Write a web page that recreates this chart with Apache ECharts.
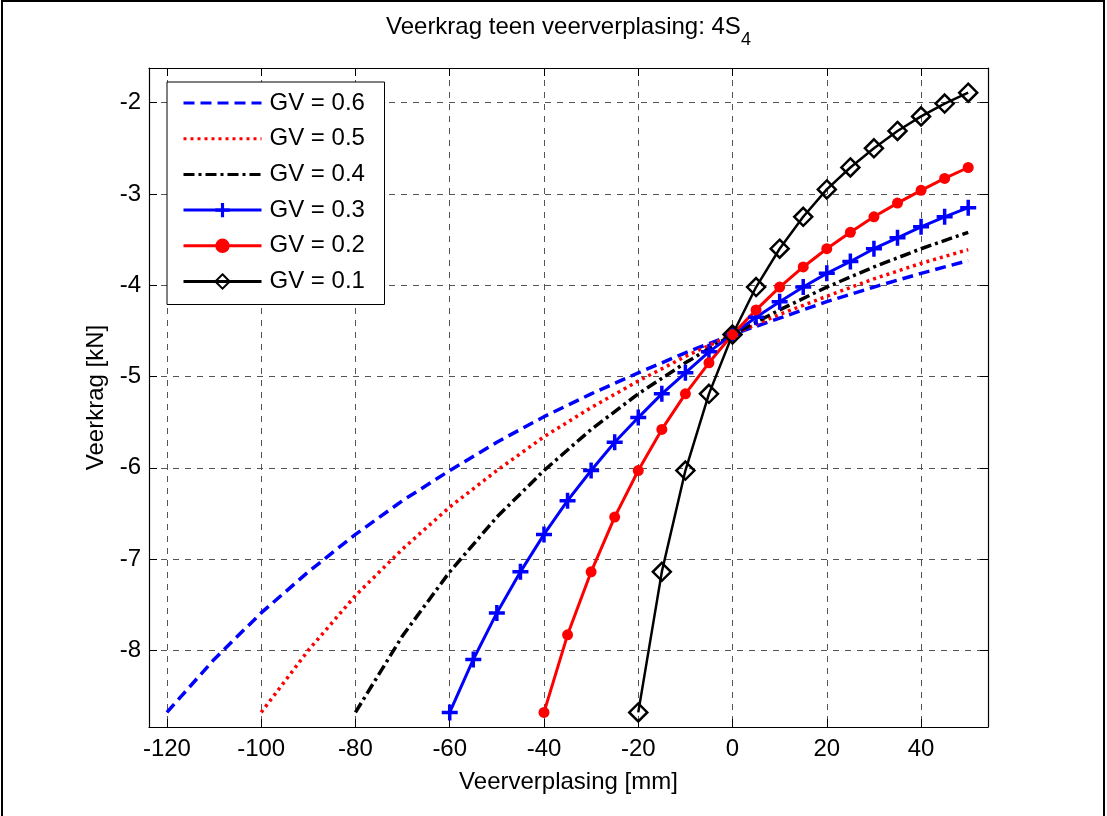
<!DOCTYPE html>
<html>
<head>
<meta charset="utf-8">
<script src="https://cdn.jsdelivr.net/npm/echarts@6/dist/echarts.min.js"></script>
<style>html,body{margin:0;padding:0;background:#fff;}#c{width:1107px;height:816px;}</style>
</head>
<body>
<div id="c"></div>
<script>
const xTicks = [-120, -100, -80, -60, -40, -20, 0, 20, 40];
const yTicks = [-8, -7, -6, -5, -4, -3, -2];
const seriesNames = ['GV = 0.6', 'GV = 0.5', 'GV = 0.4', 'GV = 0.3', 'GV = 0.2', 'GV = 0.1'];

const x06 = [-120, -110, -100, -90, -80, -70, -60, -50, -40, -30, -20, -10, 0, 10, 20, 30, 40, 50];
const y06 = [-8.68, -8.10, -7.59, -7.14, -6.73, -6.36, -6.03, -5.72, -5.44, -5.19, -4.96, -4.74, -4.54, -4.36, -4.18, -4.02, -3.87, -3.73];

const x05 = [-100, -90, -80, -70, -60, -50, -40, -30, -20, -10, 0, 10, 20, 30, 40, 50];
const y05 = [-8.68, -8.00, -7.40, -6.89, -6.43, -6.03, -5.66, -5.34, -5.05, -4.78, -4.54, -4.32, -4.12, -3.93, -3.76, -3.61];

const x04 = [-80, -70, -60, -50, -40, -30, -20, -10, 0, 10, 20, 30, 40, 50];
const y04 = [-8.68, -7.84, -7.14, -6.54, -6.03, -5.58, -5.19, -4.85, -4.54, -4.27, -4.02, -3.80, -3.60, -3.42];

const x03 = [-60, -55, -50, -45, -40, -35, -30, -25, -20, -15, -10, -5, 0, 5, 10, 15, 20, 25, 30, 35, 40, 45, 50];
const y03 = [-8.68, -8.10, -7.59, -7.14, -6.73, -6.36, -6.03, -5.72, -5.45, -5.19, -4.96, -4.73, -4.54, -4.35, -4.18, -4.02, -3.87, -3.74, -3.60, -3.48, -3.36, -3.25, -3.15];

const x02 = [-40, -35, -30, -25, -20, -15, -10, -5, 0, 5, 10, 15, 20, 25, 30, 35, 40, 45, 50];
const y02 = [-8.68, -7.83, -7.14, -6.54, -6.03, -5.58, -5.19, -4.85, -4.54, -4.27, -4.02, -3.80, -3.60, -3.42, -3.25, -3.10, -2.96, -2.83, -2.71];

const x01 = [-20, -15, -10, -5, 0, 5, 10, 15, 20, 25, 30, 35, 40, 45, 50];
const y01 = [-8.68, -7.14, -6.03, -5.19, -4.54, -4.02, -3.60, -3.25, -2.95, -2.71, -2.50, -2.31, -2.15, -2.01, -1.89];

const FONT = "'Liberation Sans', Arial, Helvetica, sans-serif";
const FS = 24;
const zip = (xs, ys) => xs.map((x, i) => [x, ys[i]]);
const PLUS = 'path://M0,6.25H6.25V0H9.75V6.25H16V9.75H9.75V16H6.25V9.75H0Z';

const chart = echarts.init(document.getElementById('c'), null, {renderer: 'canvas'});

const tickStyle = {show: true, inside: true, length: 8, lineStyle: {color: '#000', width: 1}};
const axisLineStyle = {show: true, onZero: false, lineStyle: {color: '#000', width: 1.2}};
const labelStyle = {fontSize: FS, fontFamily: FONT, color: '#000', fontWeight: 'normal'};

const option = {
  animation: false,
  backgroundColor: '#fff',
  title: {
    text: '{a|Veerkrag teen veerverplasing: 4S}{s|4}',
    left: 386, top: 15, padding: 0,
    textStyle: {
      fontWeight: 'normal',
      rich: {
        a: {fontSize: FS, fontFamily: FONT, color: '#000', fontWeight: 'normal', lineHeight: 34, verticalAlign: 'top'},
        s: {fontSize: 18, fontFamily: FONT, color: '#000', fontWeight: 'normal', lineHeight: 18, verticalAlign: 'bottom'}
      }
    }
  },
  graphic: [{
    type: 'rect', silent: true, z: -1,
    shape: {x: 2, y: 1, width: 1102, height: 900},
    style: {fill: 'none', stroke: '#000', lineWidth: 2}
  }],
  legend: {
    orient: 'vertical', left: 167, top: 82,
    itemWidth: 78, itemHeight: 18, itemGap: 11.7,
    padding: [9, 12, 11, 15],
    borderColor: '#000', borderWidth: 1, backgroundColor: '#fff',
    selectedMode: false,
    lineStyle: {width: 3},
    textStyle: Object.assign({lineHeight: 24, width: 103, padding: [0, 0, 0, 3]}, labelStyle),
    data: seriesNames
  },
  grid: {left: 149, right: 119, top: 68, bottom: 89, containLabel: false},
  xAxis: [{
    type: 'value', position: 'bottom', min: -123.8, max: 54.2,
    name: 'Veerverplasing [mm]', nameLocation: 'middle', nameGap: 43,
    nameTextStyle: labelStyle,
    axisLine: axisLineStyle,
    axisTick: Object.assign({customValues: xTicks}, tickStyle),
    axisLabel: Object.assign({customValues: xTicks, margin: 10}, labelStyle),
    splitLine: {show: true, lineStyle: {color: '#555', width: 1, type: [6, 6]}}
  }, {
    type: 'value', position: 'top', min: -123.8, max: 54.2,
    axisLine: axisLineStyle,
    axisTick: Object.assign({customValues: xTicks}, tickStyle),
    axisLabel: {show: false},
    splitLine: {show: false}
  }],
  yAxis: [{
    type: 'value', position: 'left', min: -8.84, max: -1.62,
    name: 'Veerkrag [kN]', nameLocation: 'middle', nameGap: 40,
    nameTextStyle: labelStyle,
    axisLine: axisLineStyle,
    axisTick: Object.assign({customValues: yTicks}, tickStyle),
    axisLabel: Object.assign({customValues: yTicks, margin: 8}, labelStyle),
    splitLine: {show: true, lineStyle: {color: '#555', width: 1, type: [6, 6]}}
  }, {
    type: 'value', position: 'right', min: -8.84, max: -1.62,
    axisLine: axisLineStyle,
    axisTick: Object.assign({customValues: yTicks}, tickStyle),
    axisLabel: {show: false},
    splitLine: {show: false}
  }],
  series: [
    {name: seriesNames[0], type: 'line', data: zip(x06, y06), symbol: 'none',
     lineStyle: {color: '#0000ff', width: 3.5, type: [11, 6]}, itemStyle: {color: '#0000ff', opacity: 0}},
    {name: seriesNames[1], type: 'line', data: zip(x05, y05), symbol: 'none',
     lineStyle: {color: '#ff0000', width: 3.5, type: [3, 4]}, itemStyle: {color: '#ff0000', opacity: 0}},
    {name: seriesNames[2], type: 'line', data: zip(x04, y04), symbol: 'none',
     lineStyle: {color: '#000000', width: 3.5, type: [11, 4, 3, 4]}, itemStyle: {color: '#000000', opacity: 0}},
    {name: seriesNames[3], type: 'line', data: zip(x03, y03), symbol: PLUS, symbolSize: 16, showAllSymbol: true,
     lineStyle: {color: '#0000ff', width: 3}, itemStyle: {color: '#0000ff', borderWidth: 0}},
    {name: seriesNames[4], type: 'line', data: zip(x02, y02), symbol: 'circle', symbolSize: 11, showAllSymbol: true,
     lineStyle: {color: '#ff0000', width: 3}, itemStyle: {color: '#ff0000', borderWidth: 0}},
    {name: seriesNames[5], type: 'line', data: zip(x01, y01), symbol: 'diamond', symbolSize: 18, showAllSymbol: true,
     lineStyle: {color: '#000000', width: 2.5}, itemStyle: {color: 'rgba(0,0,0,0)', borderColor: '#000', borderWidth: 2.5}}
  ]
};
chart.setOption(option);
</script>
</body>
</html>
